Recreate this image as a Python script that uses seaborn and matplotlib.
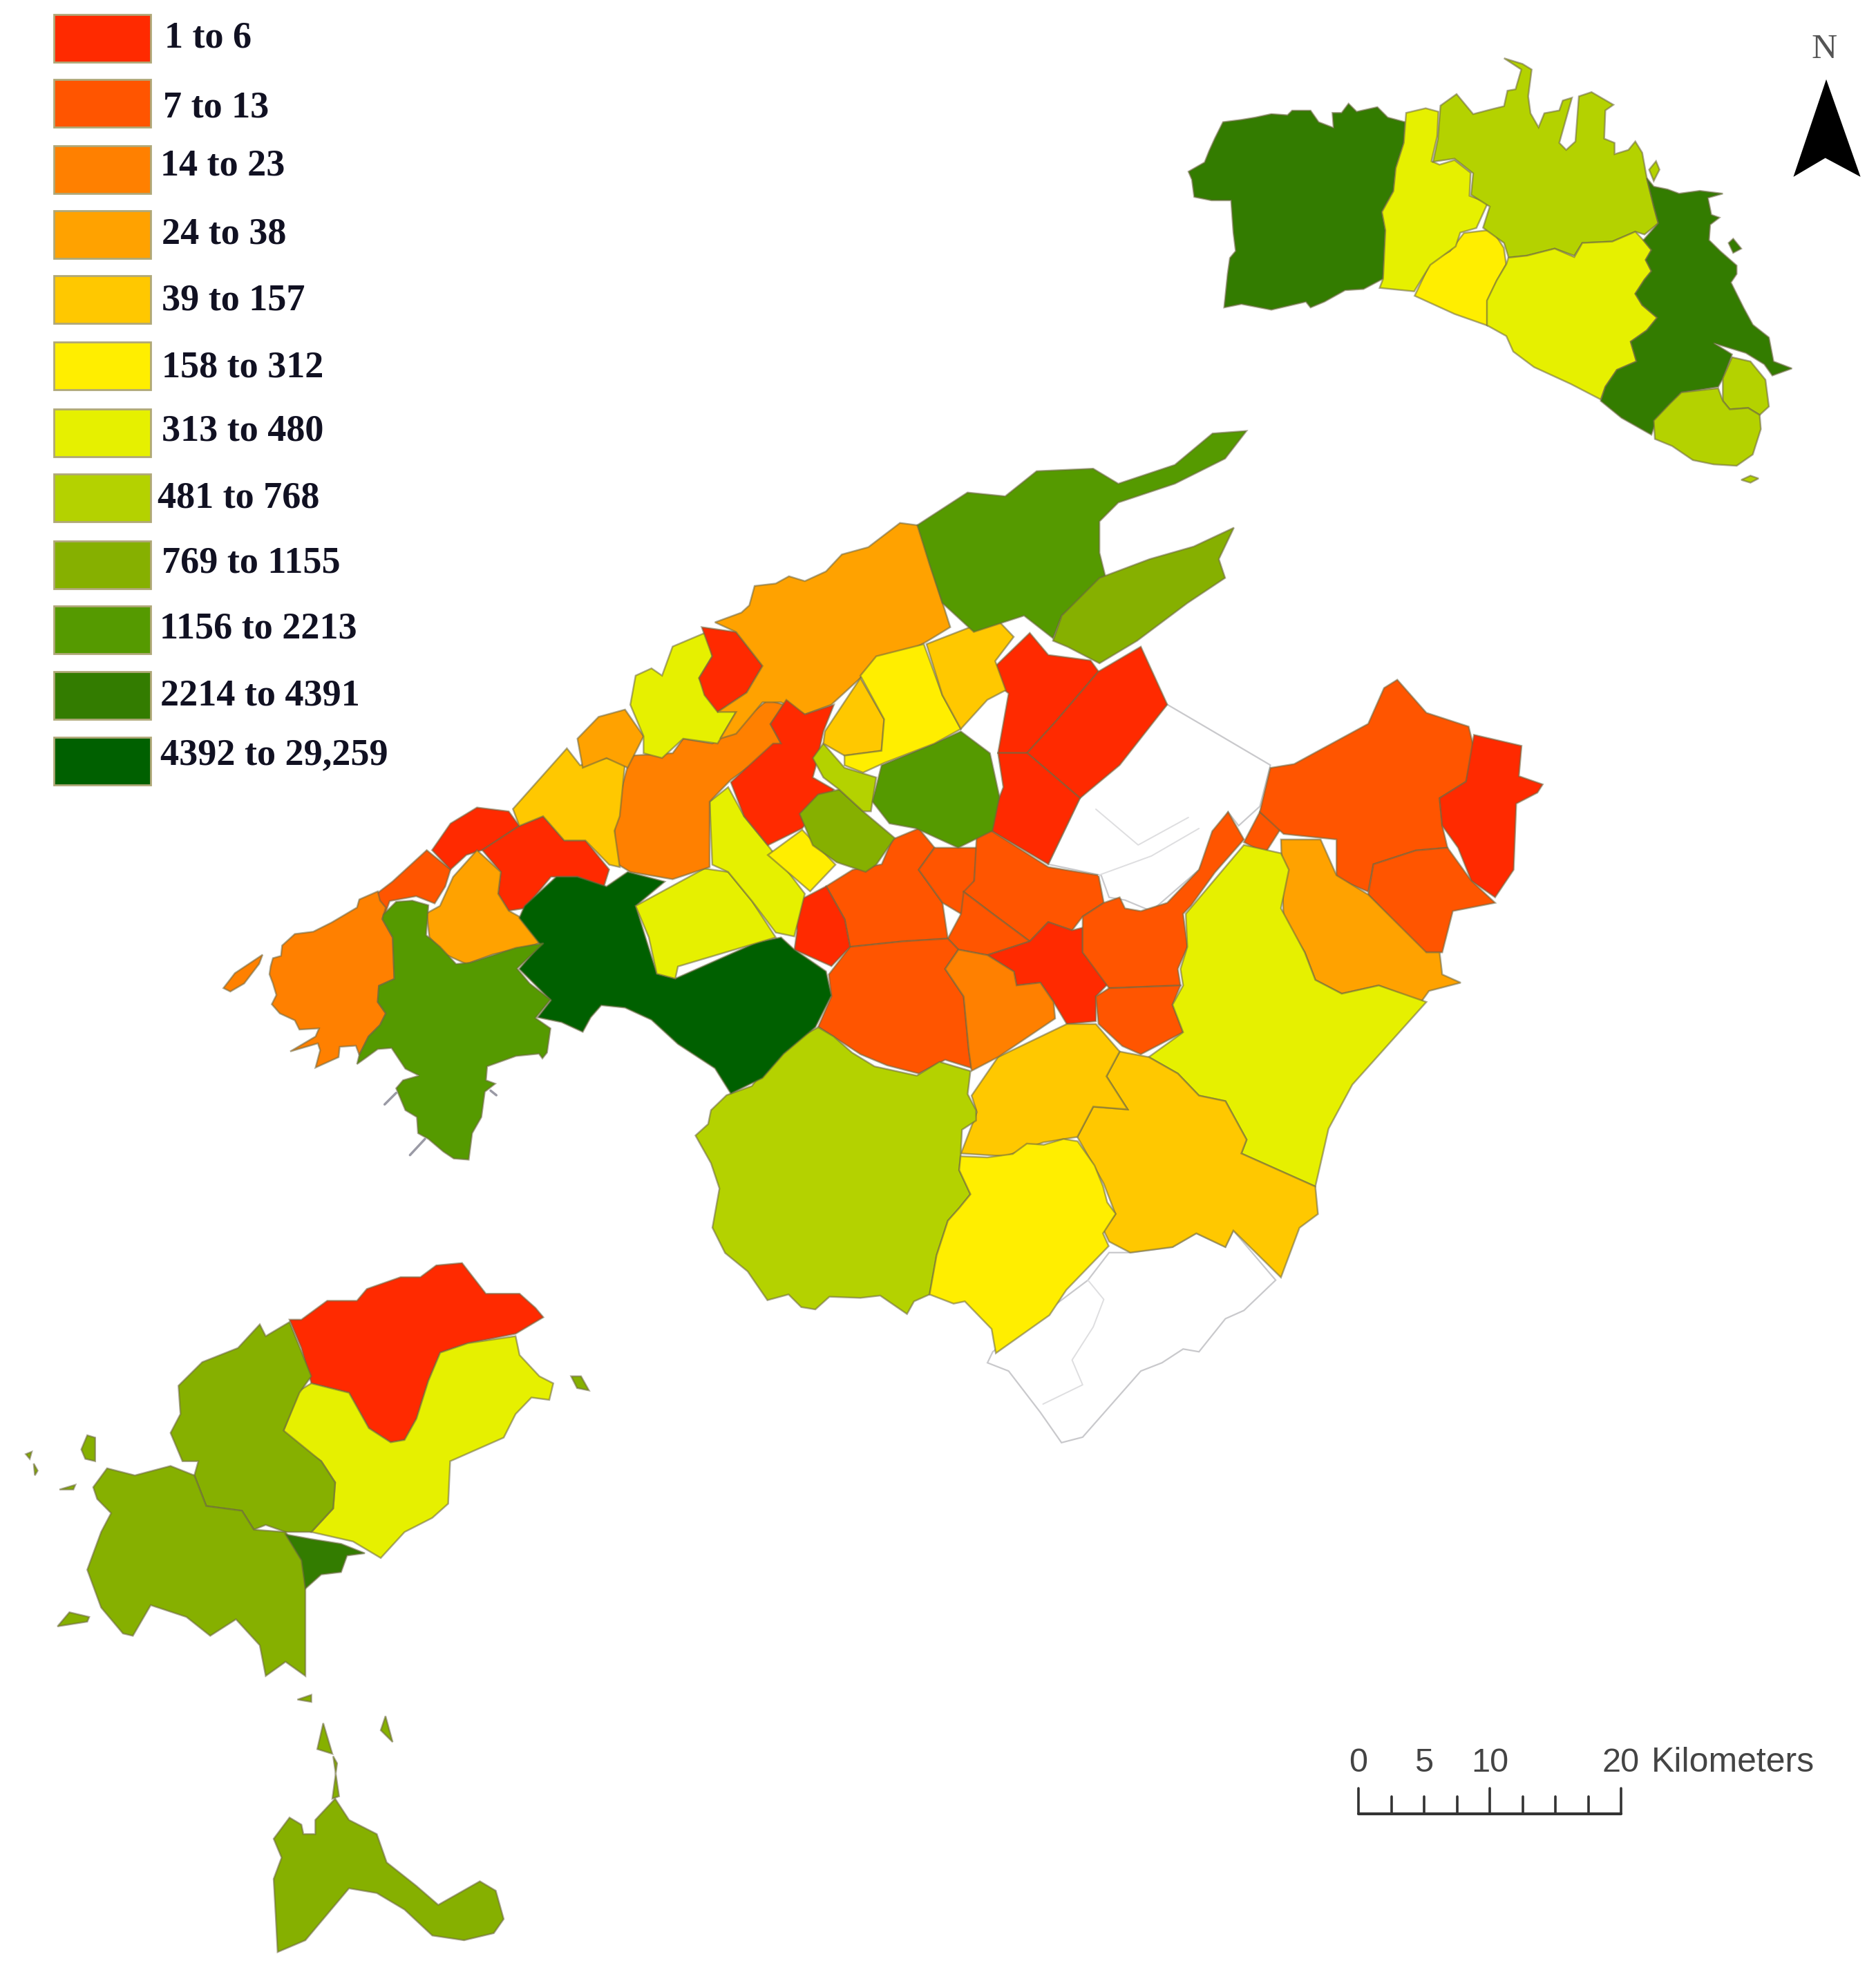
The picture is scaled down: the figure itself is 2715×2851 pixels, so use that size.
import matplotlib
matplotlib.use("Agg")
import matplotlib.pyplot as plt
import seaborn as sns

# Classes of the legend
class_labels = ["1 to 6", "7 to 13", "14 to 23", "24 to 38", "39 to 157", "158 to 312",
                "313 to 480", "481 to 768", "769 to 1155", "1156 to 2213", "2214 to 4391",
                "4392 to 29,259"]
class_colours = ["#FF2A00", "#FF5500", "#FF8000", "#FFA200", "#FFC800", "#FFEE00",
                 "#E6F000", "#B4D200", "#86B000", "#559A00", "#337C00", "#006000"]

# Outlines were traced off enlarged crops, so each group has its own crop window:
# x0, y0, width, height in the picture, then the size the crop was read at
west_window = (300, 620, 1200, 1100, 1568, 1568)
east_window = (1100, 900, 1200, 1250, 1568, 1568)
menorca_window = (1650, 0, 1065, 750, 1568, 1568)
ibiza_window = (0, 1780, 900, 1071, 1568, 1568)
calvia_window = (320, 1280, 520, 420, 1560, 1260)
south_window = (980, 1500, 640, 480, 1568, 1440)
ciutadella_window = (1700, 120, 480, 360, 1440, 1080)
mahon_window = (2160, 70, 460, 640, 1380, 1568)

# Mallorca, west part: (class, outline)
west_regions = [
    (1, [(320,960),(350,935),(415,870),(460,910),(450,945),(430,980),(395,965),(345,975),(335,1005)]),
    (0, [(425,870),(460,815),(510,782),(570,790),(590,820),(555,845),(520,870),(490,880),(460,910)]),
    (0, [(520,870),(590,820),(635,800),(675,850),(715,850),(760,910),(750,945),(700,925),(650,925),(600,990),(570,995),(550,960),(555,915)]),
    (3, [(415,1000),(440,985),(465,925),(510,870),(555,915),(550,960),(570,995),(595,1010),(620,1025),(640,1055),(620,1065),(540,1085),(490,1105),(450,1085),(420,1050)]),
    (11, [(600,985),(660,925),(700,925),(755,945),(795,915),(865,935),(810,985),(850,1125),(885,1135),(1040,1060),(1085,1050),(1110,1075),(1170,1120),(1180,1170),(1150,1235),(1090,1290),(1050,1340),(990,1372),(960,1320),(890,1270),(840,1220),(790,1195),(745,1190),(725,1215),(710,1245),(670,1225),(625,1215),(650,1180),(590,1115),(630,1065),(590,1010)]),
    (6, [(810,985),(940,908),(985,915),(1030,975),(1075,1050),(890,1110),(885,1135),(850,1125),(835,1050)]),
    (6, [(950,770),(985,740),(1015,800),(1060,860),(1130,960),(1110,1048),(1075,1040),(1030,975),(985,915),(955,900)]),
    (5, [(1060,880),(1125,828),(1188,900),(1140,955)]),
    (2, [(800,675),(880,670),(900,640),(955,650),(1015,600),(1060,560),(1090,570),(1065,610),(1085,650),(990,725),(950,770),(950,905),(880,930),(800,915),(770,895),(770,800)]),
    (4, [(578,785),(680,660),(705,695),(755,680),(790,690),(780,800),(770,830),(780,905),(760,900),(715,850),(675,850),(635,800),(590,820)]),
    (3, [(700,640),(740,595),(790,580),(825,635),(795,700),(755,680),(710,700)]),
    (6, [(800,570),(810,510),(840,495),(860,510),(880,450),(945,420),(955,470),(930,515),(950,560),(1000,585),(965,650),(900,640),(860,680),(825,670),(825,635)]),
    (0, [(935,410),(1000,420),(1050,490),(1020,545),(965,585),(940,550),(930,515),(955,470)]),
    (3, [(960,400),(1010,380),(1025,365),(1035,325),(1075,320),(1100,305),(1130,315),(1170,295),(1200,260),(1250,245),(1310,195),(1345,200),(1370,290),(1405,410),(1360,440),(1240,510),(1180,570),(1130,590),(1085,565),(1050,565),(1000,630),(970,640),(1000,585),(965,585),(1020,545),(1050,490),(1000,420)]),
    (0, [(990,730),(1070,650),(1085,650),(1065,610),(1095,560),(1130,590),(1185,570),(1165,625),(1150,700),(1145,720),(1185,745),(1125,825),(1060,860),(1015,800)]),
    (8, [(1120,795),(1155,755),(1195,745),(1240,790),(1300,845),(1265,900),(1245,915),(1190,895),(1145,860)]),
    (7, [(1145,680),(1165,650),(1205,700),(1265,720),(1255,790),(1240,790),(1195,745),(1165,720)]),
    (9, [(1275,695),(1375,650),(1425,625),(1480,670),(1498,760),(1485,830),(1420,865),(1340,825),(1290,815),(1258,770)]),
    (4, [(1168,625),(1235,515),(1280,600),(1275,665),(1205,675),(1165,650)]),
    (5, [(1235,510),(1265,470),(1355,445),(1390,550),(1425,620),(1375,650),(1280,690),(1240,710),(1205,695),(1205,675),(1275,665),(1280,600)]),
    (4, [(1360,445),(1490,390),(1525,430),(1490,480),(1510,540),(1475,560),(1425,620),(1390,550)]),
]

# South-west corner, drawn over the west part
calvia_regions = [
    (2, [(215,355),(225,320),(260,310),(265,265),(320,215),(400,205),(480,165),(590,100),(600,65),(680,30),(690,70),(715,100),(700,150),(745,230),(752,410),(685,440),(680,510),(715,560),(690,610),(640,660),(600,740),(585,700),(515,705),(510,750),(410,795),(430,720),(420,690),(300,725),(410,660),(425,625),(340,630),(320,590),(255,560),(220,520),(240,480),(225,430),(210,390)]),
    (2, [(10,450),(60,385),(180,305),(165,345),(100,430),(40,465)]),
    (9, [(705,130),(760,75),(830,70),(900,90),(890,220),(950,270),(1020,345),(1080,340),(1280,275),(1400,255),(1285,365),(1340,430),(1430,500),(1365,580),(1430,625),(1415,730),(1395,755),(1380,735),(1280,745),(1155,790),(1150,850),(1190,865),(1145,900),(1130,1010),(1090,1080),(1075,1195),(1010,1190),(965,1160),(900,1105),(855,1080),(850,1010),(800,980),(760,885),(790,850),(860,830),(800,800),(740,710),(680,715),(625,755),(590,780),(600,740),(640,660),(690,610),(715,560),(680,510),(685,440),(752,410),(745,230),(700,150)]),
]
calvia_spikes = [
    [(710,955),(760,905)],
    [(820,1175),(885,1105)],
    [(1170,895),(1195,915)],
]

# North-east peninsulas
north_regions = [
    (9, [(730,418),(770,392),(800,395),(825,375),(870,373),(890,385),(935,370),(965,345),(992,343),(975,365),(935,385),(890,400),(875,415),(875,440),(880,460),(845,490),(838,508),(815,490),(775,503),(750,480),(740,450)]),
    (8, [(875,460),(915,445),(950,435),(982,420),(970,445),(975,460),(945,480),(905,510),(875,528),(850,515),(838,510),(845,490)]),
]

# Mallorca, east part
east_regions = [
    (0, [(440,85),(510,20),(545,60),(625,70),(640,90),(560,180),(505,238),(450,238),(470,130),(445,110)]),
    (0, [(640,90),(720,45),(770,150),(680,260),(605,320),(505,238),(560,180)]),
    (0, [(450,238),(505,238),(605,320),(545,440),(430,375),(460,300)]),
    (1, [(125,480),(175,450),(230,440),(250,395),(300,375),(330,410),(300,450),(345,510),(355,575),(270,580),(170,590),(160,540)]),
    (1, [(300,450),(330,410),(410,410),(405,470),(380,530),(345,510)]),
    (1, [(410,380),(430,375),(545,445),(640,460),(650,510),(610,535),(590,560),(545,545),(510,580),(440,530),(385,490),(405,470)]),
    (1, [(385,490),(440,530),(510,580),(430,605),(375,595),(355,575),(380,530)]),
    (0, [(430,605),(510,580),(545,545),(590,560),(610,555),(610,600),(660,655),(635,680),(635,725),(580,730),(555,690),(530,655),(485,660),(480,635)]),
    (1, [(610,535),(650,510),(680,500),(690,520),(720,525),(770,510),(830,450),(855,380),(885,345),(915,395),(860,455),(815,515),(800,530),(808,590),(790,630),(795,660),(660,665),(610,600),(610,555)]),
    (1, [(660,665),(795,660),(780,695),(800,745),(720,785),(685,770),(640,730),(635,680)]),
    (1, [(915,400),(945,345),(985,375),(955,420)]),
    (1, [(965,265),(1010,258),(1150,185),(1180,120),(1205,105),(1260,165),(1340,190),(1350,230),(1335,290),(1285,320),(1290,370),(1300,410),(1240,415),(1160,440),(1150,490),(1090,465),(1090,395),(990,385),(945,345)]),
    (0, [(1350,205),(1440,225),(1435,280),(1480,295),(1470,310),(1430,330),(1425,450),(1390,500),(1345,470),(1320,410),(1290,370),(1285,320),(1335,290)]),
    (1, [(1160,440),(1240,415),(1300,410),(1345,470),(1390,510),(1310,525),(1290,600),(1255,600),(1150,495)]),
    (3, [(985,395),(1060,395),(1090,460),(1150,495),(1260,600),(1285,600),(1290,640),(1325,655),(1265,670),(1250,690),(1170,660),(1100,675),(1050,650),(1030,600),(990,540)]),
    (6, [(915,405),(985,420),(1000,450),(985,520),(1030,600),(1050,650),(1100,675),(1170,660),(1260,690),(1190,765),(1120,840),(1075,920),(1050,1025),(910,965),(920,940),(880,870),(830,860),(790,820),(735,790),(800,745),(780,695),(800,660),(795,630),(808,590),(805,530)]),
    (4, [(680,780),(735,790),(790,820),(830,860),(880,870),(920,940),(910,965),(1050,1025),(1055,1075),(1020,1100),(985,1190),(895,1105),(880,1135),(825,1110),(780,1135),(700,1145),(660,1125),(650,1105),(672,1075),(650,1020),(600,935),(630,880),(695,885),(655,825)]),
    (4, [(400,860),(450,790),(580,730),(635,730),(680,780),(655,825),(695,885),(630,880),(600,935),(535,945),(465,970),(380,965),(410,890)]),
    (1, [(170,590),(270,580),(355,575),(375,595),(350,630),(385,680),(395,780),(400,810),(350,795),(300,820),(240,805),(190,785),(110,735),(135,680),(130,640)]),
    (2, [(375,595),(430,605),(480,635),(485,660),(530,655),(555,690),(558,720),(450,790),(400,815),(395,780),(385,680),(350,630)]),
    (0, [(65,510),(125,480),(160,540),(170,590),(135,625),(65,595),(70,560)]),
]

# South of Mallorca
south_regions = [
    (7, [(500,-40),(555,0),(620,70),(700,130),(850,170),(930,110),(1040,150),(1030,250),(1060,320),(1060,365),(1010,405),(1005,520),(1000,580),(1040,685),(1000,745),(960,800),(920,950),(895,1120),(840,1150),(815,1205),(720,1125),(650,1135),(540,1130),(490,1185),(440,1175),(395,1120),(320,1145),(250,1020),(170,940),(125,830),(150,660),(120,550),(65,430),(110,380),(120,320),(175,255),(265,215),(310,140),(395,30)]),
    (5, [(1005,520),(1100,525),(1190,510),(1240,465),(1300,470),(1370,445),(1420,455),(1480,560),(1510,650),(1525,720),(1555,770),(1510,855),(1530,910),(1380,1100),(1320,1210),(1130,1375),(1115,1270),(1020,1150),(980,1160),(895,1120),(920,950),(960,800),(1000,745),(1040,685),(1000,580)]),
]

# Municipalities without data, only a thin outline (same crop as the east part)
empty_regions = [
    [(770,150),(850,195),(965,260),(945,335),(905,370),(885,345),(830,450),(740,525),(690,505),(660,500),(645,460),(545,440),(605,320)],
    [(660,1145),(620,1195),(440,1325),(430,1345),(470,1360),(530,1435),(570,1490),(610,1480),(720,1360),(760,1345),(800,1320),(830,1325),(880,1265),(915,1250),(975,1195),(895,1105),(880,1135),(825,1110),(780,1135),(700,1145)],
]
empty_inner_lines = [
    [(635,340),(715,405),(810,355)],
    [(640,460),(740,425),(830,375)],
    [(620,1195),(650,1230),(630,1280),(590,1340),(610,1385),(535,1420)],
]

menorca_regions = [
    (5, [(690,705),(750,695),(775,750),(780,800),(760,850),(740,910),(740,985),(670,950),(585,895),(620,790),(660,760)]),
]

ciutadella_regions = [
    (10, [(60,385),(130,345),(150,295),(175,240),(210,170),(290,160),(350,150),(420,135),(490,140),(510,120),(590,120),(625,170),(690,195),(685,130),(725,130),(755,90),(790,125),(880,105),(925,150),(1000,170),(995,260),(960,370),(950,470),(900,560),(915,640),(905,850),(820,895),(740,900),(650,950),(590,975),(570,950),(420,985),(290,960),(215,975),(230,830),(240,760),(265,730),(255,650),(245,510),(160,510),(85,495),(75,420)]),
    (6, [(1005,130),(1090,110),(1145,125),(1140,230),(1115,340),(1150,355),(1215,335),(1285,390),(1280,490),(1360,520),(1310,630),(1240,650),(1220,710),(1110,790),(1040,905),(890,890),(905,850),(915,640),(900,560),(950,470),(960,370),(995,260)]),
]

mahon_regions = [
    (7, [(-226,203),(-156,162),(-84,233),(0,215),(50,205),(65,150),(100,145),(125,75),(50,35),(130,55),(170,75),(155,170),(165,230),(200,280),(225,230),(290,220),(305,185),(345,175),(290,335),(320,360),(360,330),(375,170),(430,155),(525,200),(490,220),(485,320),(530,335),(530,375),(590,360),(620,330),(650,370),(670,460),(700,560),(720,620),(660,660),(620,650),(520,685),(390,690),(355,735),(270,710),(150,735),(70,742),(50,690),(-41,636),(-12,561),(-93,519),(-84,443),(-165,391),(-258,402),(-237,321)]),
    (6, [(69,742),(150,735),(270,710),(355,740),(390,690),(520,685),(620,650),(655,680),(690,715),(665,750),(690,790),(660,820),(620,870),(650,910),(715,955),(670,1000),(600,1040),(625,1110),(540,1140),(490,1200),(470,1245),(340,1190),(180,1130),(90,1075),(60,1020),(-24,982),(-24,894),(18,823),(60,765)]),
    (10, [(670,460),(700,490),(760,500),(810,515),(900,505),(1000,515),(935,530),(950,590),(985,600),(945,625),(940,680),(990,720),(1060,770),(1060,800),(1035,830),(1090,920),(1130,980),(1200,1025),(1220,1110),(1300,1135),(1215,1160),(1180,1120),(1100,1080),(960,1045),(1040,1085),(1000,1170),(980,1200),(820,1220),(760,1280),(710,1320),(690,1370),(560,1310),(470,1250),(490,1200),(540,1140),(625,1110),(600,1040),(670,1000),(715,955),(650,910),(620,870),(660,820),(690,790),(665,750),(690,715),(655,680),(720,620),(700,560)]),
    (10, [(1025,690),(1045,675),(1080,710),(1045,725)]),
    (7, [(1040,1095),(1120,1110),(1185,1175),(1200,1270),(1160,1300),(1110,1275),(1030,1280),(1000,1250),(1000,1170)]),
    (7, [(700,1320),(770,1260),(820,1220),(980,1205),(1000,1250),(1030,1280),(1110,1275),(1160,1300),(1165,1350),(1130,1440),(1060,1480),(960,1475),(870,1460),(780,1410),(705,1385)]),
    (7, [(1080,1530),(1120,1515),(1155,1525),(1120,1540)]),
    (7, [(680,430),(710,400),(725,430),(700,470)]),
]

ibiza_regions = [
    (0, [(730,190),(760,190),(825,150),(860,150),(900,150),(925,125),(1010,100),(1060,100),(1100,75),(1165,70),(1225,135),(1310,135),(1350,165),(1370,185),(1340,200),(1300,220),(1180,240),(1110,260),(1080,320),(1050,400),(1020,445),(985,450),(930,420),(880,345),(785,325),(760,250)]),
    (6, [(755,340),(785,325),(880,345),(930,420),(985,450),(1020,445),(1050,400),(1080,320),(1110,260),(1180,240),(1300,225),(1310,265),(1360,310),(1395,325),(1385,360),(1340,355),(1300,390),(1270,440),(1135,490),(1130,580),(1090,610),(1020,640),(960,695),(890,660),(785,640),(840,590),(845,535),(810,490),(720,440),(715,425)]),
    (8, [(450,330),(510,280),(600,250),(655,200),(670,225),(730,195),(785,310),(755,345),(715,425),(810,490),(845,535),(840,590),(785,640),(720,640),(670,625),(640,635),(610,595),(520,585),(490,520),(500,490),(460,490),(430,430),(455,390)]),
    (8, [(235,545),(270,505),(340,520),(430,500),(490,520),(520,585),(610,595),(640,635),(720,640),(765,700),(770,755),(770,880),(770,945),(720,915),(670,945),(655,880),(595,825),(530,860),(470,820),(380,795),(335,860),(310,855),(255,800),(220,720),(255,640),(280,600),(245,570)]),
    (10, [(720,645),(785,655),(860,665),(920,685),(875,690),(860,725),(810,730),(770,760),(760,700)]),
    (8, [(205,465),(220,435),(240,440),(240,490),(215,485)]),
    (8, [(145,840),(175,810),(225,820),(220,830)]),
    (8, [(150,550),(190,540),(185,550)]),
    (8, [(1440,310),(1465,310),(1485,340),(1455,335)]),
    (8, [(800,1100),(815,1045),(838,1110)]),
    (8, [(960,1060),(972,1030),(990,1085)]),
    (8, [(750,995),(785,985),(785,1000)]),
    (8, [(65,475),(80,470),(75,485)]),
    (8, [(85,495),(95,510),(88,520)]),
    (8, [(690,1290),(730,1245),(760,1260),(765,1280),(795,1280),(795,1250),(845,1205),(880,1250),(950,1280),(975,1340),(1050,1390),(1105,1430),(1210,1380),(1250,1400),(1270,1460),(1245,1490),(1170,1505),(1090,1495),(1020,1440),(950,1405),(880,1395),(830,1445),(770,1505),(700,1530),(695,1450),(690,1375),(710,1330)]),
    (8, [(838,1205),(850,1130),(840,1115),(855,1200)]),
]

north_arrow = [(1462,240),(1535,535),(1460,478),(1392,535)]

scale_km = [0, 2.5, 5, 7.5, 10, 12.5, 15, 17.5, 20]
scale_labels = [0, 5, 10, 20]


def from_crop(points, window):
    x0, y0, w, h, read_w, read_h = window
    return [x0 + x * w / read_w for x, y in points], [y0 + y * h / read_h for x, y in points]


def from_page(points):
    return [x * 2715 / 1493 for x, y in points], [y * 2851 / 1568 for x, y in points]


sns.set_theme(style="white")
plt.rcParams["font.family"] = ["Liberation Serif", "DejaVu Serif"]
palette = sns.color_palette(class_colours)
edge = (0.42, 0.40, 0.25, 0.55)

fig = plt.figure(figsize=(27.15, 28.51), dpi=100)
ax = fig.add_axes([0, 0, 1, 1])

for outline in empty_regions:
    xs, ys = from_crop(outline, east_window)
    ax.fill(xs, ys, facecolor="white", edgecolor="#c9c9cc", linewidth=1.6)
for line in empty_inner_lines:
    xs, ys = from_crop(line, east_window)
    ax.plot(xs, ys, color="#dedee0", linewidth=1.4)

groups = [(east_regions, east_window), (south_regions, south_window),
          (west_regions, west_window), (calvia_regions, calvia_window),
          (menorca_regions, menorca_window), (ciutadella_regions, ciutadella_window),
          (mahon_regions, mahon_window), (ibiza_regions, ibiza_window)]
for regions, window in groups:
    for cls, outline in regions:
        xs, ys = from_crop(outline, window)
        ax.fill(xs, ys, facecolor=palette[cls], edgecolor=edge, linewidth=1.8)
for cls, outline in north_regions:
    xs, ys = from_page(outline)
    ax.fill(xs, ys, facecolor=palette[cls], edgecolor=edge, linewidth=1.8)
for spike in calvia_spikes:
    xs, ys = from_crop(spike, calvia_window)
    ax.plot(xs, ys, color="#9a9aa5", linewidth=2.5)

# Legend swatches and labels, spacing is uneven in the original
swatch_tops = [21, 115, 211, 305, 399, 495, 592, 686, 783, 877, 972, 1067]
label_x = [238, 236, 232, 234, 234, 234, 234, 228, 234, 231, 232, 232]
label_y = [55, 156, 240, 339, 435, 532, 624, 721, 815, 910, 1007, 1093]
for i, label in enumerate(class_labels):
    ax.add_patch(plt.Rectangle((78, swatch_tops[i]), 140, 69, facecolor=palette[i],
                               edgecolor="#b0a878", linewidth=2))
    ax.text(label_x[i], label_y[i], label, fontsize=39, fontweight="bold", color="#111122",
            va="center", ha="left")

# North arrow
xs, ys = from_crop(north_arrow, menorca_window)
ax.fill(xs, ys, color="black", linewidth=0)
ax.text(2640, 72, "N", fontsize=37, color="#555555", ha="center", va="center")

# Scale bar
bar_left, bar_right = 1966, 2346
bar_y, tick_low, tick_high = 2625, 2600, 2588
to_x = lambda km: bar_left + (bar_right - bar_left) * km / scale_km[-1]
ax.plot([bar_left, bar_right], [bar_y, bar_y], color="#333333", linewidth=3, solid_capstyle="round")
for km in scale_km:
    top = tick_high if km % 10 == 0 else tick_low
    ax.plot([to_x(km), to_x(km)], [bar_y, top], color="#333333", linewidth=2.6)
for km in scale_labels:
    ax.text(to_x(km), 2551, str(km), fontsize=35, color="#444444", family="Liberation Sans",
            ha="center", va="center")
ax.text(2390, 2551, "Kilometers", fontsize=36, color="#444444", family="Liberation Sans",
        ha="left", va="center")

ax.set_xlim(0, 2715)
ax.set_ylim(2851, 0)
ax.axis("off")
sns.despine(ax=ax, left=True, bottom=True)

fig.savefig("out.png", dpi=100, facecolor="white")
